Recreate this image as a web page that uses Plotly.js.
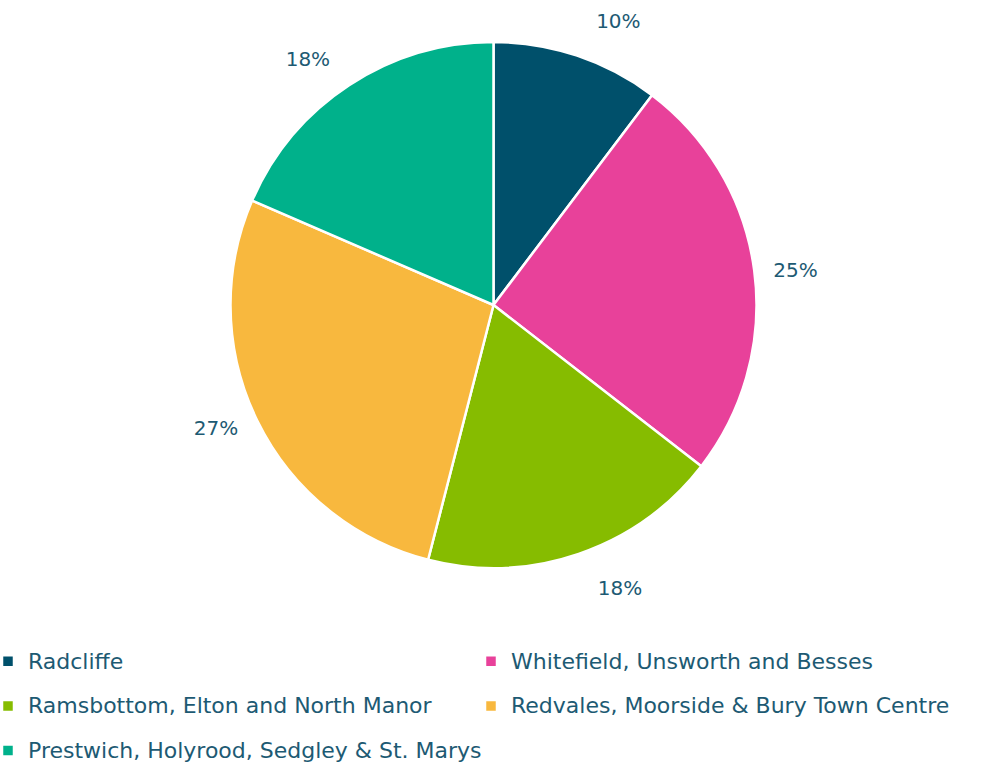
<!DOCTYPE html>
<html>
<head>
<meta charset="utf-8">
<script src="https://cdn.plot.ly/plotly-3.0.1.min.js"></script>
<style>
  html, body { margin: 0; padding: 0; background: #fff; }
  #chart { width: 984px; height: 765px; }
</style>
</head>
<body>
<div id="chart"></div>
<script>
const categories = [
  "Radcliffe",
  "Whitefield, Unsworth and Besses",
  "Ramsbottom, Elton and North Manor",
  "Redvales, Moorside & Bury Town Centre",
  "Prestwich, Holyrood, Sedgley & St. Marys"
];
const shares = [10.3, 25.2, 18.5, 27.5, 18.5];
const shareLabels = ["10%", "25%", "18%", "27%", "18%"];
const colors = ["#00506b", "#e8419a", "#86bc00", "#f8b83e", "#00b18b"];

const textColor = "#1d5a73";
const fontFamily = "'DejaVu Sans', sans-serif";

// legend rows are spaced wider than the text: large legend font for row height, smaller text drawn inside
const legendLabels = categories.map(c =>
  "<span style='font-size:22px;baseline-shift:5px'>" + c + "</span>");
// blank lines around each data label keep it a little further from the pie edge
const pieText = shareLabels.map(s => "\u00a0<br>" + s + "<br>\u00a0");

const trace = {
  type: "pie",
  labels: legendLabels,
  values: shares,
  text: pieText,
  textinfo: "text",
  textposition: "outside",
  outsidetextfont: { family: fontFamily, size: 20, color: textColor },
  sort: false,
  direction: "clockwise",
  rotation: 0,
  marker: { colors: colors, line: { color: "#ffffff", width: 2.5 } },
  domain: { x: [230/984, 757/984], y: [1 - 568/765, 1 - 42/765] },
  hoverinfo: "percent",
  automargin: false
};

const layout = {
  width: 984,
  height: 765,
  margin: { l: 0, r: 0, t: 0, b: 0, autoexpand: false },
  paper_bgcolor: "#ffffff",
  showlegend: true,
  legend: {
    orientation: "h",
    x: 0,
    xanchor: "left",
    y: 1 - 634/765,
    yanchor: "top",
    indentation: -12,
    entrywidth: 450,
    entrywidthmode: "pixels",
    itemwidth: 30,
    font: { family: fontFamily, size: 32, color: textColor },
    traceorder: "normal"
  }
};

Plotly.newPlot("chart", [trace], layout, { displayModeBar: false, staticPlot: true });
</script>
</body>
</html>
